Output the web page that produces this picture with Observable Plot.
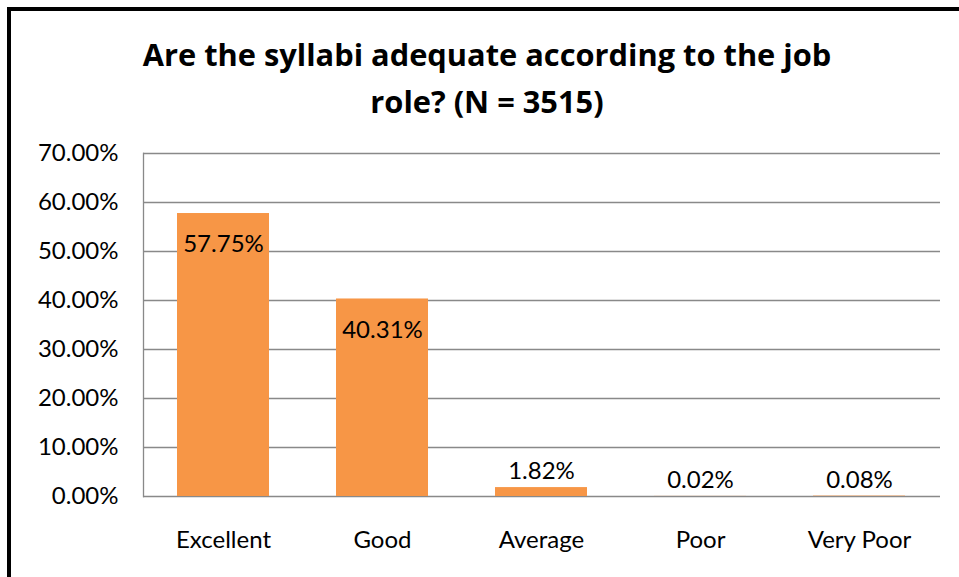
<!DOCTYPE html>
<html>
<head>
<meta charset="utf-8">
<script src="https://cdn.jsdelivr.net/npm/d3@7"></script>
<script src="https://cdn.jsdelivr.net/npm/@observablehq/plot@0.6"></script>
<style>
  html, body { margin: 0; padding: 0; background: #fff; }
  #wrap { position: relative; width: 959px; height: 577px; overflow: hidden; background: #fff; }
  #bt { position: absolute; left: 7px; top: 7px; width: 952px; height: 4px; background: #000; }
  #bl { position: absolute; left: 7px; top: 7px; width: 4px; height: 570px; background: #000; }
  #title { position: absolute; left: 11px; top: 31px; width: 952px; text-align: center;
           font-family: "Open Sans", Lato, sans-serif; font-weight: bold; font-size: 30.8px;
           line-height: 47px; color: #000; }
  #chart { position: absolute; left: 0; top: 125px; }
</style>
</head>
<body>
<div id="wrap">
  <div id="bt"></div>
  <div id="bl"></div>
  <div id="title">Are the syllabi adequate according to the job<br>role? (N = 3515)</div>
  <div id="chart"></div>
</div>
<script>
const categories = ["Excellent", "Good", "Average", "Poor", "Very Poor"];
const values = [57.75, 40.31, 1.82, 0.02, 0.08];
const yTicks = [0, 10, 20, 30, 40, 50, 60, 70];

const data = categories.map((c, i) => ({category: c, value: values[i]}));
const fmt = d => d.toFixed(2) + "%";

const chart = Plot.plot({
  width: 959,
  height: 452,
  marginTop: 28,
  marginBottom: 81,
  marginLeft: 143,
  marginRight: 19,
  style: {fontFamily: "Lato, 'Open Sans', sans-serif", fontSize: "24px", color: "#000", background: "transparent", overflow: "visible"},
  x: {domain: categories, paddingInner: 0.42, paddingOuter: 0.21, label: null, tickSize: 0, tickPadding: 34},
  y: {domain: [0, 70], ticks: yTicks, tickFormat: fmt, label: null, tickSize: 0, tickPadding: 25},
  marks: [
    Plot.ruleY(yTicks, {stroke: "#898989", strokeWidth: 1.3}),
    Plot.frame({anchor: "left", stroke: "#898989", strokeWidth: 1.3}),
    Plot.barY(data, {x: "category", y: "value", fill: "#F79646"}),
    Plot.text(data.filter(d => d.value >= 10), {x: "category", y: "value", text: d => fmt(d.value), dy: 31, fill: "#000"}),
    Plot.text(data.filter(d => d.value < 10), {x: "category", y: "value", text: d => fmt(d.value), dy: -16, fill: "#000"})
  ]
});
document.getElementById("chart").appendChild(chart);
</script>
</body>
</html>
